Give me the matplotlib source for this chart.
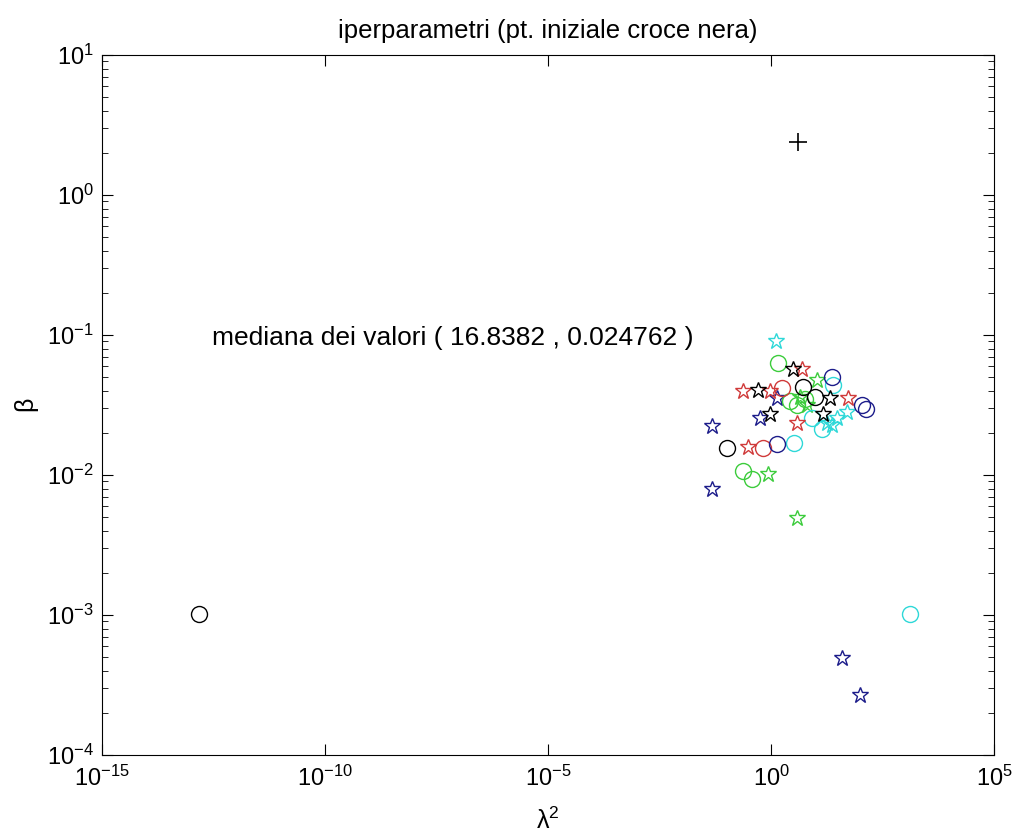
''' iperparametri scatter (log-log) '''
import matplotlib
matplotlib.use('Agg')
import matplotlib.pyplot as plt
from matplotlib.ticker import LogLocator, NullFormatter, NullLocator, FuncFormatter
import numpy as np

# lambda^2 / beta pairs for each run
black_o_x = [1.48e-13, 0.102, 5.25, 9.77]
black_o_y = [0.00102, 0.0155, 0.0427, 0.0363]
black_s_x = [3.09, 0.513, 0.955, 20.9, 14.8]
black_s_y = [0.0575, 0.0407, 0.0275, 0.0355, 0.0275]
red_s_x = [0.234, 0.955, 5.01, 0.302, 53.7, 3.80]
red_s_y = [0.0398, 0.0398, 0.0575, 0.0158, 0.0355, 0.0234]
red_o_x = [1.78, 0.661]
red_o_y = [0.0417, 0.0155]
blue_s_x = [0.0479, 0.0479, 0.562, 1.35, 38.9, 100]
blue_s_y = [0.0224, 0.00794, 0.0257, 0.0355, 0.00049, 0.000269]
blue_o_x = [1.35, 23.4, 110, 135]
blue_o_y = [0.0166, 0.0501, 0.0316, 0.0295]
green_o_x = [1.45, 3.80, 0.234, 0.372, 2.69, 5.75]
green_o_y = [0.0631, 0.0316, 0.0107, 0.00933, 0.0339, 0.0347]
green_s_x = [10.7, 6.46, 0.851, 3.80, 4.47]
green_s_y = [0.0479, 0.0316, 0.0102, 0.00490, 0.0360]
cyan_s_x = [1.29, 30.2, 50.1, 18.2, 23.4]
cyan_s_y = [0.0912, 0.0257, 0.0282, 0.0234, 0.0229]
cyan_o_x = [24.5, 13.8, 3.31, 1318, 8.3]
cyan_o_y = [0.0437, 0.0214, 0.0170, 0.00102, 0.0257]
start_x = [4.07]
start_y = [2.40]

BLUE = '#1c1c8a'
GREEN = '#3ccc3c'
CYAN = '#2ed8d8'
RED = '#d03a3a'
BLACK = '#000000'


def pow10(v, pos):
    ''' tick label like 10^-5 '''
    return r'$\mathregular{10^{%d}}$' % int(round(np.log10(v)))


def main():
    ''' main function'''
    plt.rcParams['font.family'] = ['Liberation Sans', 'DejaVu Sans']
    fig = plt.figure(figsize=(10.13, 8.39), dpi=100)
    ax = fig.add_axes([0.1007, 0.1001, 0.8806, 0.8343])

    circ = dict(marker='o', linestyle='none', markersize=11.5,
                markerfacecolor='none', markeredgewidth=1.0)
    star = dict(marker='*', linestyle='none', markersize=12,
                markerfacecolor='none', markeredgewidth=1.0)

    ax.plot(blue_s_x, blue_s_y, color=BLUE, **star)
    ax.plot(green_o_x, green_o_y, color=GREEN, **circ)
    ax.plot(green_s_x, green_s_y, color=GREEN, **star)
    ax.plot(cyan_o_x, cyan_o_y, color=CYAN, **circ)
    ax.plot(cyan_s_x, cyan_s_y, color=CYAN, **star)
    ax.plot(red_o_x, red_o_y, color=RED, **circ)
    ax.plot(red_s_x, red_s_y, color=RED, **star)
    ax.plot(blue_o_x, blue_o_y, color=BLUE, **circ)
    ax.plot(black_o_x, black_o_y, color=BLACK, **circ)
    ax.plot(black_s_x, black_s_y, color=BLACK, **star)
    ax.plot(start_x, start_y, color=BLACK, marker='+', linestyle='none',
            markersize=13, markeredgewidth=1.2)

    ax.text(2.9e-13, 0.095, 'mediana dei valori ( 16.8382 , 0.024762 )',
            fontsize=19, va='center', ha='left')

    ax.set_xscale('log')
    ax.set_yscale('log')
    ax.set_xlim(1e-15, 1e5)
    ax.set_ylim(1e-4, 1e1)
    ax.set_xticks([1e-15, 1e-10, 1e-5, 1e0, 1e5])
    ax.xaxis.set_minor_locator(NullLocator())
    ax.yaxis.set_minor_locator(LogLocator(base=10, subs=range(2, 10)))
    ax.yaxis.set_minor_formatter(NullFormatter())
    ax.xaxis.set_major_formatter(FuncFormatter(pow10))
    ax.yaxis.set_major_formatter(FuncFormatter(pow10))
    ax.tick_params(which='both', direction='in', top=True, right=True,
                   labelsize=17)
    ax.tick_params(which='major', length=8, width=0.8)
    ax.tick_params(which='minor', length=4, width=0.6)
    ax.tick_params(axis='x', pad=8)
    ax.tick_params(axis='y', pad=6)

    ax.set_xlabel(r'$\mathregular{\lambda^2}$', fontsize=18, labelpad=12)
    ax.set_ylabel(r'$\mathregular{\beta}$', fontsize=18, labelpad=4)
    ax.set_title('iperparametri (pt. iniziale croce nera)', fontsize=18.5,
                 pad=12)
    for s in ax.spines.values():
        s.set_linewidth(0.8)

    fig.savefig('out.png', dpi=100)


if __name__ == '__main__':
    main()
